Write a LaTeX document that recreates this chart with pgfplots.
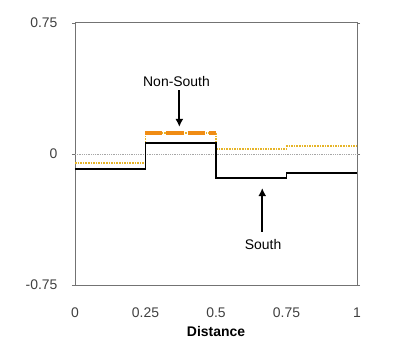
\documentclass[border=0pt]{standalone}
\usepackage{pgfplots}
\pgfplotsset{compat=1.18}
\usetikzlibrary{arrows.meta}
\usepackage{fontspec}
\setmainfont{Liberation Sans}
\definecolor{ns}{RGB}{240,140,20}
\definecolor{nsthin}{RGB}{230,180,40}
\begin{document}
\begin{tikzpicture}
\useasboundingbox (-75bp,-71bp) rectangle (325bp,285bp);
\begin{axis}[
  at={(0,0)}, anchor=south west,
  scale only axis, width=282bp, height=262bp,
  xmin=0, xmax=1, ymin=-0.75, ymax=0.75,
  xtick={0,0.25,0.5,0.75,1},
  xticklabels={0,0.25,0.5,0.75,1},
  ytick={-0.75,0,0.75},
  yticklabels={-0.75,0,0.75},
  axis line style={draw=black!55, line width=1pt},
  xtick style={draw=none},
  ytick style={draw=black!55},
  tick align=outside, major tick length=3bp,
  tick label style={font=\fontsize{14}{16}\selectfont, text=black!75},
  xticklabel style={anchor=center, yshift=-25bp},
  yticklabel style={anchor=east, xshift=-11bp},
  xlabel={\textbf{Distance}},
  xlabel style={font=\fontsize{14}{16}\selectfont, at={(axis description cs:0.5,0)}, anchor=center, yshift=-47bp},
  clip=false,
]
\addplot[black!35, line width=0.8pt, densely dotted] coordinates {(0,0) (1,0)};
\addplot[nsthin, line width=1.6pt, densely dotted, const plot] coordinates {
 (0,-0.05) (0.25,0.12) (0.5,0.03) (0.75,0.045) (1,0.045)};
\addplot[ns, line width=4.5pt, dash pattern=on 17bp off 4bp] coordinates {(0.25,0.12) (0.5,0.12)};
\addplot[black, line width=1.6pt, const plot] coordinates {
 (0,-0.086) (0.25,0.063) (0.5,-0.137) (0.75,-0.11) (1,-0.11)};
\node[font=\fontsize{14}{16}\selectfont] at (axis cs:0.36,0.414) {Non-South};
\draw[-{Latex[length=8bp,width=8bp]}, line width=1.8pt] (axis cs:0.37,0.366) -- (axis cs:0.37,0.155);
\node[font=\fontsize{14}{16}\selectfont] at (axis cs:0.667,-0.52) {South};
\draw[-{Latex[length=8bp,width=8bp]}, line width=1.8pt] (axis cs:0.664,-0.446) -- (axis cs:0.664,-0.195);
\end{axis}
\end{tikzpicture}
\end{document}
